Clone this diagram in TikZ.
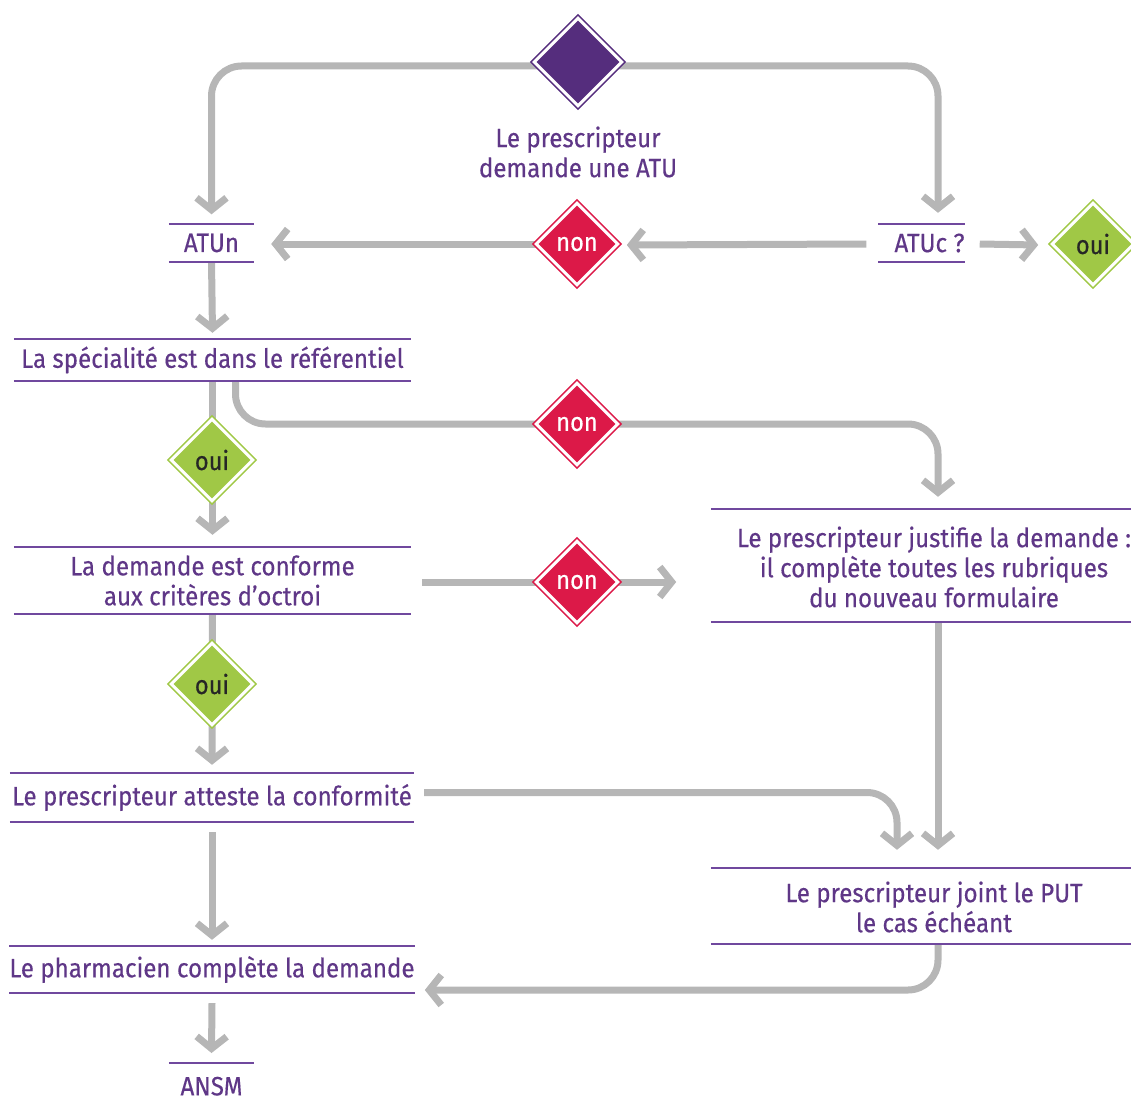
\documentclass[tikz,border=0pt]{standalone}
\usepackage{fontspec}
\setmainfont[FakeStretch=0.91,FakeBold=0.4]{Fira Sans}
\usetikzlibrary{arrows.meta,shapes.geometric,calc}
\definecolor{ptxt}{RGB}{95,55,135}
\definecolor{prule}{RGB}{112,72,158}
\definecolor{pdia}{RGB}{85,45,125}
\definecolor{rdia}{RGB}{220,25,72}
\definecolor{gdia}{RGB}{160,200,70}
\definecolor{lgray}{RGB}{182,182,182}
\pgfdeclarelayer{bg}
\pgfsetlayers{bg,main}
\begin{document}
\begin{tikzpicture}[x=1pt,y=-1pt,
 conn/.style={draw=lgray,line width=7pt,rounded corners=30pt},
 arr/.style={conn,-{Straight Barb[length=12pt,width=30pt]}},
 rule/.style={draw=prule,line width=2pt},
 lbl/.style={text=ptxt,font=\fontsize{26.5}{30}\selectfont,align=center,inner sep=0pt},
 rbox/.style={inner sep=0pt,minimum height=#1},
 dia/.style={diamond,aspect=1,inner sep=0pt,minimum width=82pt,minimum height=82pt,fill=#1,draw=#1,double=white,double distance=3pt,line width=1.6pt,font=\fontsize{26}{30}\selectfont},
]
\useasboundingbox (0,0) rectangle (1131,1105);

% diamonds
\node[dia=pdia,minimum width=88pt,minimum height=88pt] (d0) at (578,62) {};
\node[dia=rdia,text=white] (non1) at (577,244) {non};
\node[dia=gdia,text=black!85] (oui1) at (1093,244) {oui};
\node[dia=gdia,text=black!85] (oui2) at (212,460) {oui};
\node[dia=rdia,text=white] (non2) at (577,424) {non};
\node[dia=rdia,text=white] (non3) at (577,582) {non};
\node[dia=gdia,text=black!85] (oui3) at (212,684) {oui};

% text
\node[lbl] (t0) at (578,152) {Le prescripteur\\demande une ATU};
\node[lbl,rbox=37pt,minimum width=85pt] (atun) at (211.5,243) {ATUn};
\node[lbl,rbox=38pt,minimum width=85pt] (atuc) at (921.5,243) {\hspace*{16pt}ATUc ?};
\node[lbl,rbox=42pt,minimum width=397pt] (b1) at (212.5,360) {La spécialité est dans le référentiel};
\node[lbl,rbox=67pt,minimum width=397pt] (b2) at (212.5,580.5) {La demande est conforme\\aux critères d’octroi};
\node[rbox=113pt,minimum width=420pt] (b3) at (921,565.5) {};
\node[lbl] (b3t) at (934,567) {Le prescripteur justifie la demande :\\il complète toutes les rubriques\\du nouveau formulaire};
\node[lbl,rbox=49pt,minimum width=404pt] (b4) at (212,797.5) {Le prescripteur atteste la conformité};
\node[rbox=76pt,minimum width=420pt] (b5) at (921,906) {};
\node[lbl] (b5t) at (934,907) {Le prescripteur joint le PUT\\le cas échéant};
\node[lbl,rbox=47pt,minimum width=404pt] (b6) at (212,969.5) {Le pharmacien complète la demande};
\node[lbl,rbox=46pt,minimum width=85pt,anchor=north] (ansm) at (211.5,1063) {ANSM};

% rules
\foreach \n in {atun,atuc,b1,b2,b3,b4,b5,b6}{
  \draw[rule] (\n.north west) -- (\n.north east);
  \draw[rule] (\n.south west) -- (\n.south east);
}
\draw[rule] (ansm.north west) -- (ansm.north east);

% connectors
\begin{pgfonlayer}{bg}
\draw[arr] ($(d0.center)+(0,4)$) -| ($(atun.north)+(0,-10)$);
\draw[arr] ($(d0.center)+(0,4)$) -| ($(atuc.north)+(16.5,-11)$);
\draw[arr] ($(atuc.west)+(-12,1)$) -- ($(non1.east)+(8,1)$);
\draw[arr] (non1.center) -- ($(atun.east)+(17,1)$);
\draw[arr] ($(atuc.east)+(15,1)$) -- ($(oui1.west)+(-13,1)$);
\draw[arr] (atun.south) -- ($(b1.north)+(0,-6)$);
\draw[arr] (b1.south) -- ($(b2.north)+(0,-12)$);
\draw[arr] ($(b1.south)+(23,0)$) |- (non2.center) -| ($(b3.north)+(17,-12)$);
\draw[arr] ($(b2.east)+(11,1.5)$) -- ++(254,0);
\draw[arr] (b2.south) -- ($(b4.north)+(0,-8)$);
\draw[arr] ($(b4.east)+(10,-5)$) -| ($(b5.north)+(-24,-18)$);
\draw[arr] ($(b3.south)+(17,0)$) -- ($(b5.north)+(17,-18)$);
\draw[arr] ($(b4.south)+(0,10)$) -- ($(b6.north)+(0,-6)$);
\draw[arr] ($(b5.south)+(17,0)$) |- ($(b6.east)+(10,20.5)$);
\draw[arr] ($(b6.south)+(0,10)$) -- ($(ansm.north)+(0,-10)$);
\end{pgfonlayer}
\end{tikzpicture}
\end{document}
